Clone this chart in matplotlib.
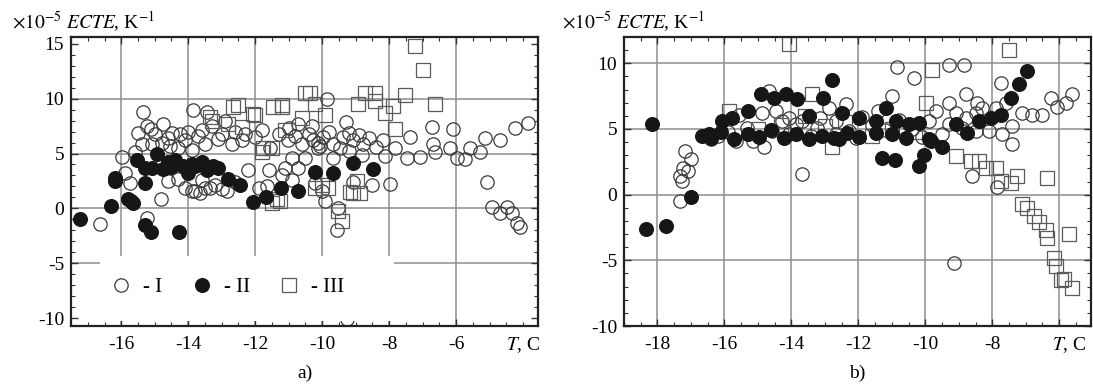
import numpy as np
import matplotlib
matplotlib.use("Agg")
import matplotlib.pyplot as plt
from matplotlib.patches import Rectangle
from matplotlib.lines import Line2D
from matplotlib.transforms import blended_transform_factory

plt.rcParams["font.family"] = ["Liberation Serif", "DejaVu Serif"]
plt.rcParams["mathtext.fontset"] = "stix"
plt.rcParams["axes.unicode_minus"] = False

# ---- panel a) ----
a_I_x = [-16.63, -15.22, -14.8, -15.73, -13.88, -13.64, -13.34, -12.84, -11.64,
         -15.34, -13.85, -13.43, -15.97,
         -15.49, -15.22, -14.99, -14.75, -14.48, -14.24, -14.09, -15.37, -15.07,
         -14.78, -14.54, -14.3, -13.88, -15.58,
         -13.58, -13.28, -12.99, -12.69, -12.39, -12.9, -13.49,
         -12.0, -11.6, -12.2, -11.9,
         -14.6, -14.3, -14.09, -13.79, -13.49, -13.19, -12.99,
         -10.72, -10.3, -11.01, -10.6, -10.12, -10.9, -10.51, -11.1, -10.72, -10.2,
         -10.0, -10.12, -11.55,
         -9.85, -9.28, -10.27, -9.97, -9.67, -9.37, -9.07, -8.78, -10.06, -9.46,
         -9.67, -8.18, -7.37, -7.82,
         -8.12, -7.46, -7.07, -6.63, -6.18, -6.69, -6.72, -6.09,
         -5.97, -5.73, -5.58, -5.28, -5.13, -4.69, -4.24, -3.85,
         -5.07, -4.93, -4.69, -4.48, -4.33, -4.18, -4.09,
         -8.51, -7.97, -9.91, -9.52, -9.55, -9.07,
         -9.25,
         -15.1, -14.6, -14.0, -13.7, -13.1, -12.6, -12.3, -11.8, -11.3, -11.0,
         -10.8, -10.4, -9.8, -9.2, -8.9, -8.6, -8.4, -8.8, -9.2,
         -13.6, -12.6, -11.2, -10.9, -15.9]
a_I_y = [-1.4, -0.9, 0.9, 2.3, 1.6, 1.4, 1.9, 1.6, 2.0,
         8.8, 9.0, 8.8, 4.7,
         6.9, 7.5, 6.8, 7.7, 6.9, 6.8, 6.2, 5.9, 5.9,
         6.0, 5.7, 5.5, 5.3, 5.1,
         7.1, 7.5, 6.8, 5.9, 6.2, 8.0, 5.9,
         6.5, 3.5, 3.5, 1.9,
         2.5, 2.7, 1.9, 1.6, 1.9, 2.1, 1.8,
         7.7, 7.5, 6.2, 5.9, 6.0, 4.6, 4.6, 3.7, 3.7, 2.3,
         1.6, 5.5, 5.5,
         10.0, 7.9, 6.2, 6.5, 5.9, 6.5, 6.2, 5.9, 5.7, 5.5,
         4.6, 6.2, 6.5, 5.5,
         4.8, 4.6, 4.7, 5.1, 5.5, 5.9, 7.4, 7.2,
         4.6, 4.5, 5.5, 5.1, 6.4, 6.2, 7.3, 7.8,
         2.4, 0.1, -0.4, 0.1, -0.4, -1.3, -1.7,
         2.1, 2.2, 0.7, 0.0, -2.0, 2.4,
         -10.1,
         7.2, 6.4, 7.0, 6.6, 6.3, 7.0, 6.8, 7.1, 6.8, 7.3,
         6.6, 6.8, 7.0, 6.9, 6.7, 6.4, 5.6, 4.9, 5.2,
         2.6, 2.4, 3.0, 2.6, 3.2]

a_II_x = [-17.22, -16.3, -16.2, -16.2, -15.8, -15.72, -15.65, -15.3, -15.1, -14.27,
          -15.3, -15.52, -14.93, -15.28, -15.07, -14.75, -14.6, -14.39, -14.15, -14.0,
          -13.79, -13.58, -13.43, -13.25, -13.1, -12.8, -12.45, -12.06, -11.67, -11.22,
          -10.72, -10.2, -9.67, -9.07, -8.48, -14.5, -13.9]
a_II_y = [-1.0, 0.2, 2.8, 2.5, 0.9, 0.7, 0.5, -1.5, -2.1, -2.1,
          2.3, 4.4, 5.0, 3.7, 3.7, 3.6, 4.2, 4.4, 3.9, 3.2,
          3.9, 4.2, 3.5, 3.9, 3.7, 2.7, 2.1, 0.55, 1.0, 1.9,
          1.6, 3.3, 3.2, 4.1, 3.6, 3.8, 4.0]

a_III_x = [-7.22, -6.99, -8.72, -8.42, -8.93, -8.42, -7.88, -7.52, -6.63, -8.12,
           -7.82, -9.91, -10.36, -10.51, -11.19, -8.96, -9.16, -10.0, -9.82, -11.34,
           -12.51, -12.0, -11.19, -10.2, -13.28, -12.8, -12.39, -11.79, -11.49, -11.49,
           -11.1, -10.6, -9.52, -9.4, -9.07, -11.25, -8.87, -10.2, -12.66, -12.06,
           -11.46, -13.34, -11.76]
a_III_y = [14.8, 12.6, 10.5, 10.5, 9.5, 9.8, 9.3, 10.3, 9.5, 8.7,
           7.2, 8.5, 10.5, 10.5, 9.2, 2.5, 1.5, 2.1, 1.9, 0.9,
           9.4, 8.5, 9.4, 9.5, 8.0, 7.7, 7.4, 5.1, 5.5, 0.5,
           7.1, 8.2, -0.2, -1.1, 1.4, 0.7, 1.4, 1.9, 9.2, 8.6,
           9.2, 8.3, 5.5]

# ---- panel b) ----
b_I_x = [-17.19, -16.99, -17.25, -17.34, -17.1, -17.34, -17.28, -13.67,
         -15.64, -15.16, -14.81, -14.66, -14.45, -14.06, -13.67, -13.25, -12.87,
         -12.36, -12.27,
         -15.55, -14.87, -14.27, -13.85, -13.16, -12.66, -15.34, -14.57, -14.06,
         -13.4, -12.66, -12.06,
         -10.84, -10.33, -9.28, -8.84, -10.99, -7.73, -6.24, -6.06, -5.79, -5.61,
         -7.1, -6.81, -6.51, -7.4, -7.4, -8.6, -7.85, -9.13,
         -9.28, -8.78, -8.45, -8.3, -9.67, -9.07, -8.78, -8.48, -7.88, -7.58,
         -9.28, -8.9, -8.48, -8.09, -7.7, -9.49, -9.88,
         -11.6, -11.2, -10.8, -10.4, -10.1, -11.9, -11.4, -16.2, -15.9, -16.4]
b_I_y = [3.3, 2.7, 2.0, 1.4, 1.8, -0.45, 1.06, 1.6,
         4.1, 4.1, 3.6, 7.9, 6.4, 5.8, 5.6, 5.1, 6.6,
         6.9, 4.85,
         6.1, 6.2, 5.6, 5.4, 5.8, 5.6, 5.1, 4.85, 4.6,
         4.5, 4.6, 4.3,
         9.7, 8.9, 9.9, 9.9, 7.5, 8.5, 7.35, 6.7, 7.0, 7.65,
         6.2, 6.1, 6.1, 5.2, 3.85, 1.45, 0.55, -5.2,
         7.0, 7.65, 7.0, 6.6, 6.4, 6.2, 5.8, 6.2, 6.6, 7.0,
         5.4, 5.1, 4.85, 4.85, 4.6, 4.6, 5.6,
         5.3, 4.9, 5.7, 5.0, 4.4, 5.9, 6.4, 4.5, 4.8, 4.2]

b_II_x = [-18.15, -18.33, -17.76, -16.99, -12.78, -14.9, -14.51, -14.15, -13.82,
          -13.07, -15.31, -16.06, -15.76, -13.46, -12.48,
          -16.66, -16.39, -16.09, -15.7, -15.31, -14.96, -14.6, -14.21, -13.85,
          -13.46, -13.1, -12.72, -12.33, -11.97, -16.45,
          -11.97, -11.46, -11.16, -10.87, -10.48, -10.18,
          -12.57, -11.46, -10.99, -10.57, -9.88, -9.49,
          -11.28, -10.9, -10.18, -10.03, -9.07, -8.75, -8.39, -8.03, -7.73,
          -7.43, -7.19, -6.96, -9.82]
b_II_y = [5.4, -2.65, -2.4, -0.2, 8.7, 7.65, 7.35, 7.7, 7.3,
          7.35, 6.4, 5.6, 5.8, 6.0, 6.2,
          4.5, 4.3, 4.8, 4.2, 4.6, 4.4, 4.9, 4.3, 4.6,
          4.2, 4.5, 4.3, 4.7, 4.4, 4.6,
          5.8, 5.6, 6.6, 5.6, 5.4, 5.45,
          4.2, 4.7, 4.6, 4.3, 4.2, 3.6,
          2.8, 2.65, 2.2, 3.0, 5.4, 4.7, 5.6, 5.8, 6.1,
          7.35, 8.4, 9.4, 4.1]

b_III_x = [-14.06, -7.49, -9.79, -9.97, -9.07, -8.63, -8.39, -8.18, -7.88, -7.25,
           -6.36, -7.73, -7.43, -12.78,
           -7.1, -6.96, -6.75, -6.6, -6.39, -6.36, -6.15, -6.09, -5.94, -5.85,
           -5.61, -5.7,
           -13.37, -15.0, -14.3, -13.6, -13.0, -12.4, -11.6, -11.0, -10.3, -15.85]
b_III_y = [11.5, 11.05, 9.5, 7.0, 2.95, 2.6, 2.6, 2.0, 2.0, 1.45,
           1.3, 1.06, 0.9, 3.6,
           -0.7, -1.0, -1.6, -2.1, -2.7, -3.3, -4.8, -5.4, -6.5, -6.4,
           -7.1, -3.0,
           7.65, 5.0, 5.3, 6.0, 5.2, 5.5, 4.5, 5.0, 4.8, 6.4]

series_names = ["- I", "- II", "- III"]

style_I = dict(marker="o", ms=9.6, mfc="none", mec="#3a3a3a", mew=0.9, ls="none")
style_II = dict(marker="o", ms=10.0, mfc="#161616", mec="#161616", mew=0.8, ls="none")
style_III = dict(marker="s", ms=9.4, mfc="none", mec="#5a5a5a", mew=0.9, ls="none")

grid_kw = dict(color="#8e8e8e", lw=1.1, zorder=0.5)
label_font = 14

fig = plt.figure(figsize=(10.93, 3.85), dpi=100)
ax_a = fig.add_axes([0.065, 0.1532, 0.4273, 0.7506])
ax_b = fig.add_axes([0.5709, 0.1532, 0.4273, 0.7506])


def setup_axes(ax, xlim, ylim, xmaj, ymaj):
    ax.set_xlim(*xlim)
    ax.set_ylim(*ylim)
    ax.set_xticks(xmaj)
    ax.set_yticks(ymaj)
    ax.set_xticks(np.arange(np.ceil(xlim[0] * 2) / 2, xlim[1], 0.5), minor=True)
    ax.set_yticks(np.arange(np.ceil(ylim[0]), ylim[1], 1.0), minor=True)
    ax.tick_params(which="both", direction="in", top=True, right=True,
                   labelsize=label_font, color="#333333")
    ax.tick_params(which="major", length=5, width=1.0)
    ax.tick_params(which="minor", length=3, width=0.8)
    ax.tick_params(axis="x", pad=7)
    ax.tick_params(axis="y", pad=5)
    for s in ax.spines.values():
        s.set_linewidth(1.6)
        s.set_color("#222222")


# panel a
setup_axes(ax_a, (-17.5, -3.55), (-10.7, 15.6),
           [-16, -14, -12, -10, -8, -6], [-10, -5, 0, 5, 10, 15])
for gx in [-16, -14, -12, -10, -8, -6]:
    ax_a.axvline(gx, **grid_kw)
for gy in [-5, 0, 5, 10]:
    ax_a.axhline(gy, **grid_kw)
ax_a.plot(a_I_x, a_I_y, zorder=2, **style_I)
ax_a.plot(a_II_x, a_II_y, zorder=2.2, **style_II)
ax_a.plot(a_III_x, a_III_y, zorder=2.1, **style_III)

# white legend area over the lower left part
ax_a.add_patch(Rectangle((0.062, 0.017), 0.63, 0.225, transform=ax_a.transAxes,
                         facecolor="white", edgecolor="none", zorder=3))
handles = [Line2D([], [], **style_I), Line2D([], [], **style_II),
           Line2D([], [], **style_III)]
leg = ax_a.legend(handles, series_names, ncol=3, frameon=False,
                  loc="center left", bbox_to_anchor=(0.045, 0.135),
                  fontsize=15, handlelength=1.0, handletextpad=0.55,
                  columnspacing=1.4)
leg.set_zorder(4)

xt = blended_transform_factory(ax_a.transData, ax_a.transAxes)
ax_a.text(-4.0, -0.065, "$T$, C", transform=xt, ha="center", va="center",
          fontsize=label_font)
ax_a.text(-0.126, 1.03, r"$\times10^{-5}$ $ECTE$, K$^{\mathrm{-1}}$",
          transform=ax_a.transAxes, ha="left", va="baseline", fontsize=label_font)
ax_a.text(0.5, -0.163, "a)", transform=ax_a.transAxes, ha="center", va="center",
          fontsize=label_font)

# panel b
setup_axes(ax_b, (-19.0, -5.05), (-10.0, 12.0),
           [-18, -16, -14, -12, -10, -8, -6], [-10, -5, 0, 5, 10])
ax_b.set_xticklabels(["-18", "-16", "-14", "-12", "-10", "-8", ""])
for gx in [-18, -16, -14, -12, -10, -8, -6]:
    ax_b.axvline(gx, **grid_kw)
for gy in [-5, 0, 5, 10]:
    ax_b.axhline(gy, **grid_kw)
ax_b.plot(b_I_x, b_I_y, zorder=2, **style_I)
ax_b.plot(b_II_x, b_II_y, zorder=2.2, **style_II)
ax_b.plot(b_III_x, b_III_y, zorder=2.1, **style_III)

xt = blended_transform_factory(ax_b.transData, ax_b.transAxes)
ax_b.text(-5.7, -0.065, "$T$, C", transform=xt, ha="center", va="center",
          fontsize=label_font)
ax_b.text(-0.133, 1.03, r"$\times10^{-5}$ $ECTE$, K$^{\mathrm{-1}}$",
          transform=ax_b.transAxes, ha="left", va="baseline", fontsize=label_font)
ax_b.text(0.5, -0.163, "b)", transform=ax_b.transAxes, ha="center", va="center",
          fontsize=label_font)

fig.savefig("out.png", dpi=100)
